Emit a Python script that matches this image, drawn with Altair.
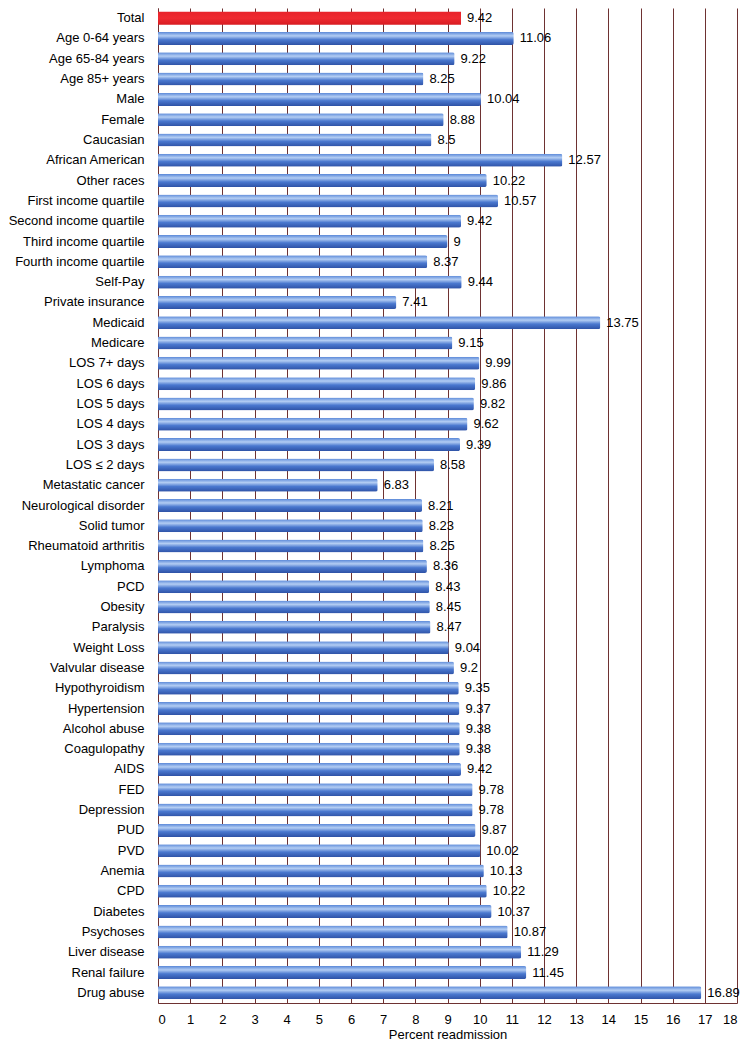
import altair as alt
import pandas as pd

categories = [
    "Total", "Age 0-64 years", "Age 65-84 years", "Age 85+ years", "Male", "Female",
    "Caucasian", "African American", "Other races", "First income quartile",
    "Second income quartile", "Third income quartile", "Fourth income quartile",
    "Self-Pay", "Private insurance", "Medicaid", "Medicare", "LOS 7+ days",
    "LOS 6 days", "LOS 5 days", "LOS 4 days", "LOS 3 days", "LOS \u2264 2 days",
    "Metastatic cancer", "Neurological disorder", "Solid tumor", "Rheumatoid arthritis",
    "Lymphoma", "PCD", "Obesity", "Paralysis", "Weight Loss", "Valvular disease",
    "Hypothyroidism", "Hypertension", "Alcohol abuse", "Coagulopathy", "AIDS", "FED",
    "Depression", "PUD", "PVD", "Anemia", "CPD", "Diabetes", "Psychoses",
    "Liver disease", "Renal failure", "Drug abuse",
]
labels = [
    "9.42", "11.06", "9.22", "8.25", "10.04", "8.88", "8.5", "12.57", "10.22", "10.57",
    "9.42", "9", "8.37", "9.44", "7.41", "13.75", "9.15", "9.99", "9.86", "9.82",
    "9.62", "9.39", "8.58", "6.83", "8.21", "8.23", "8.25", "8.36", "8.43", "8.45",
    "8.47", "9.04", "9.2", "9.35", "9.37", "9.38", "9.38", "9.42", "9.78", "9.78",
    "9.87", "10.02", "10.13", "10.22", "10.37", "10.87", "11.29", "11.45", "16.89",
]
tick_values = list(range(0, 19))
values = [float(v) for v in labels]
groups = ["total"] + ["other"] * (len(categories) - 1)

df = pd.DataFrame({"cat": categories, "val": values, "lab": labels, "grp": groups})

FONT = "Liberation Sans"
GRID = "#6e3232"

blue_grad = alt.Gradient(
    gradient="linear", x1=0, y1=0, x2=0, y2=1,
    stops=[
        alt.GradientStop(offset=0, color="#5a88d8"),
        alt.GradientStop(offset=0.3, color="#b3cdf3"),
        alt.GradientStop(offset=0.6, color="#4a78cf"),
        alt.GradientStop(offset=1, color="#2e52a6"),
    ],
)
red_grad = alt.Gradient(
    gradient="linear", x1=0, y1=0, x2=0, y2=1,
    stops=[
        alt.GradientStop(offset=0, color="#e8232a"),
        alt.GradientStop(offset=0.5, color="#ef2a30"),
        alt.GradientStop(offset=1, color="#d81c22"),
    ],
)

y_enc = alt.Y(
    "cat:N", sort=categories, title=None,
    scale=alt.Scale(paddingInner=0.36, paddingOuter=0.18),
    axis=alt.Axis(
        labelFont=FONT, labelFontSize=13, labelColor="#000000", labelPadding=14,
        ticks=False, domainColor=GRID, grid=False, labelLimit=200,
    ),
)
x_enc = alt.X(
    "val:Q", title="Percent readmission",
    scale=alt.Scale(domain=[0, 18], nice=False, zero=True),
    axis=alt.Axis(
        values=tick_values, format="d", labelOverlap=False,
        labelFont=FONT, labelFontSize=13, labelColor="#000000", labelPadding=10,
        titleFont=FONT, titleFontSize=13, titleFontWeight="normal", titleColor="#000000",
        titlePadding=2, ticks=False, grid=True, gridColor=GRID, gridOpacity=1,
        gridWidth=1, domainColor=GRID, labelFlush=True,
    ),
)

base = alt.Chart(df)

bars_blue = base.transform_filter(alt.datum.grp == "other").mark_bar(
    color=blue_grad, cornerRadiusTopRight=2, cornerRadiusBottomRight=2
).encode(x=x_enc, y=y_enc)
bars_red = base.transform_filter(alt.datum.grp == "total").mark_bar(
    color=red_grad
).encode(x=x_enc, y=y_enc)

text = base.mark_text(
    align="left", baseline="middle", dx=6, font=FONT, fontSize=13, color="#000000"
).encode(x=x_enc, y=y_enc, text="lab:N")

chart = (
    alt.layer(bars_blue, bars_red, text)
    .properties(
        width=735, height=1033,
        autosize=alt.AutoSizeParams(type="fit", contains="padding"),
        padding={"left": 0, "top": 0, "right": 6, "bottom": 0},
    )
    .configure_view(stroke=None)
)

chart.save("out.html", embed_options={"renderer": "svg", "actions": False})
